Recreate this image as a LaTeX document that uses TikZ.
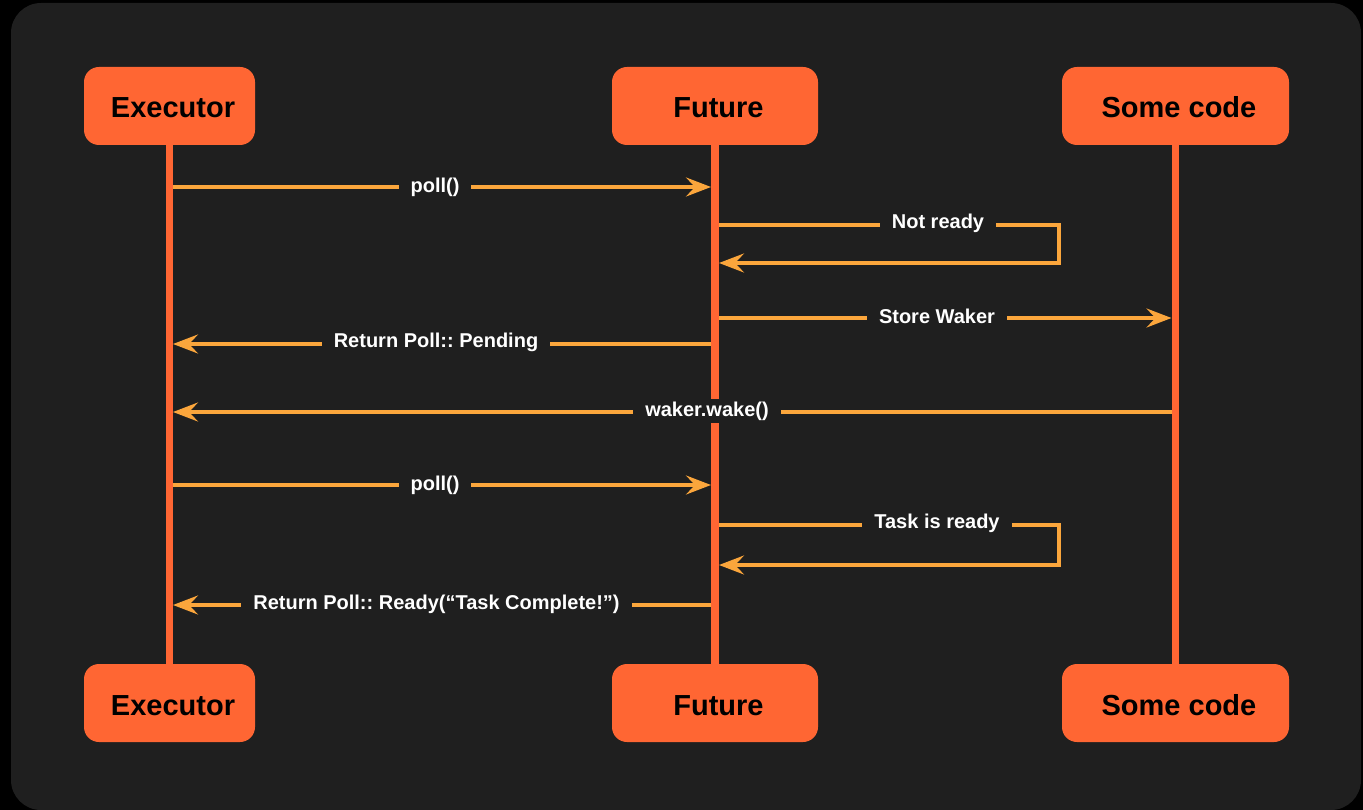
\documentclass[tikz,border=0pt]{standalone}
\usepackage{fontspec}
\setmainfont{Liberation Sans}
\usetikzlibrary{arrows.meta}
\frenchspacing

\definecolor{panel}{HTML}{1F1F1F}
\definecolor{actor}{HTML}{FF6633}
\definecolor{msgcol}{HTML}{FBA63C}

\tikzset{
  actorbox/.style={fill=actor, rounded corners=15pt, minimum height=78pt,
    inner sep=0pt, text height=24pt, text depth=0pt,
    font=\fontsize{29}{34}\selectfont\bfseries, text=black},
  lifeline/.style={draw=actor, line width=7.5pt},
  msg/.style={draw=msgcol, line width=3.5pt,
    -{Stealth[length=25pt, width=19pt, inset=9pt]}},
  lbl/.style={fill=panel, text=white, inner xsep=12pt, inner ysep=3pt,
    font=\fontsize{20}{24}\selectfont\bfseries}
}
% participant name, set slightly right of the box centre
\newcommand{\actorname}[1]{\hspace*{7pt}#1}

\begin{document}
\begin{tikzpicture}[x=1pt, y=-1pt]
  \useasboundingbox (0,0) rectangle (1363,810);
  \fill[black] (0,0) rectangle (1363,810);
  \fill[panel, rounded corners=30pt] (11,3) rectangle (1361,810);

  % participants, top and bottom
  \node[actorbox, minimum width=171pt] (exT) at (169.5,106) {\actorname{Executor}};
  \node[actorbox, minimum width=206pt] (fuT) at (715,106) {\actorname{Future}};
  \node[actorbox, minimum width=227pt] (scT) at (1175.5,106) {\actorname{Some code}};
  \node[actorbox, minimum width=171pt] (exB) at (169.5,703) {\actorname{Executor}};
  \node[actorbox, minimum width=206pt] (fuB) at (715,703) {\actorname{Future}};
  \node[actorbox, minimum width=227pt] (scB) at (1175.5,703) {\actorname{Some code}};

  % lifelines
  \draw[lifeline] (exT.south) -- (exB.north);
  \draw[lifeline] (fuT.south) -- (fuB.north);
  \draw[lifeline] (scT.south) -- (scB.north);

  % message rows
  \coordinate (r1) at (0,187);
  \coordinate (r2) at (0,225);
  \coordinate (r2b) at (0,263);
  \coordinate (r3) at (0,318);
  \coordinate (r4) at (0,344);
  \coordinate (r5) at (0,412);
  \coordinate (r6) at (0,485);
  \coordinate (r7) at (0,525);
  \coordinate (r7b) at (0,565);
  \coordinate (r8) at (0,605);
  \coordinate (loopA) at (1059,225);
  \coordinate (loopB) at (1059,263);
  \coordinate (loopC) at (1059,525);
  \coordinate (loopD) at (1059,565);

  % messages
  \draw[msg, shorten <=3.5pt, shorten >=4pt] (exT.south |- r1) -- (fuT.south |- r1);
  \draw[msg, shorten <=4pt, shorten >=4pt]
    (fuT.south |- r2) -- (loopA) -- (loopB) -- (fuT.south |- r2b);
  \draw[msg, shorten <=4pt, shorten >=4pt] (fuT.south |- r3) -- (scT.south |- r3);
  \draw[msg, shorten <=4pt, shorten >=3.5pt] (fuT.south |- r4) -- (exT.south |- r4);
  \draw[msg, shorten <=4pt, shorten >=3.5pt] (scT.south |- r5) -- (exT.south |- r5);
  \draw[msg, shorten <=3.5pt, shorten >=4pt] (exT.south |- r6) -- (fuT.south |- r6);
  \draw[msg, shorten <=4pt, shorten >=4pt]
    (fuT.south |- r7) -- (loopC) -- (loopD) -- (fuT.south |- r7b);
  \draw[msg, shorten <=4pt, shorten >=3.5pt] (fuT.south |- r8) -- (exT.south |- r8);

  % message labels
  \node[lbl] (l1) at (435,187) {poll()};
  \node[lbl] (l2) at (938,223) {Not ready};
  \node[lbl] (l3) at (937,316) {Store Waker};
  \node[lbl] (l4) at (436,342) {Return Poll:: Pending};
  \node[lbl] (l5) at (707,411) {waker.wake()};
  \node[lbl] (l6) at (435,485) {poll()};
  \node[lbl] (l7) at (937,523) {Task is ready};
  \node[lbl] (l8) at (436.5,604) {Return Poll:: Ready(“Task Complete!”)};
\end{tikzpicture}
\end{document}
